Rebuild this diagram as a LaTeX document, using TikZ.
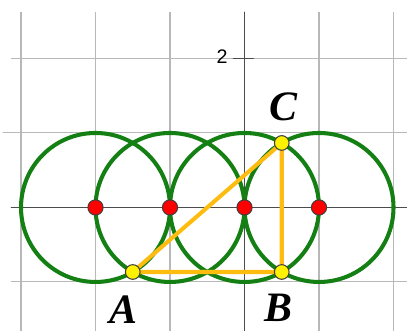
\documentclass[tikz,border=0pt]{standalone}
\usepackage{fontspec}
\setmainfont{Liberation Serif}
\setsansfont{Liberation Sans}
\usetikzlibrary{positioning}
\definecolor{ringgreen}{RGB}{20,128,20}
\definecolor{sideorange}{RGB}{255,188,16}

\begin{document}
\begin{tikzpicture}[x=1cm,y=1cm,line cap=round,line join=round,
    gridline/.style={black!28,line width=.4pt},
    axisline/.style={black!70,line width=.45pt},
    ring/.style={ringgreen,line width=1.55pt},
    side/.style={sideorange,line width=1.55pt},
    centre/.style={circle,draw=black!75,fill=red,line width=.4pt,inner sep=0pt,minimum size=5.8pt},
    vertex/.style={circle,draw=black!75,fill=yellow,line width=.4pt,inner sep=0pt,minimum size=5.6pt},
    vlabel/.style={font=\fontsize{16}{18}\selectfont\bfseries\itshape}]
    \useasboundingbox (-3.282,-1.658) rectangle (2.181,2.785);
    \foreach \x in {-3,-2,-1,1,2}
      \draw[gridline] (\x,2.62) -- (\x,-1.658);
    \foreach \y in {-1,2}
      \draw[gridline] (-3.13,\y) -- (2.181,\y);
    \draw[gridline] (-3.24,1) -- (2.181,1);
    \draw[axisline] (-3.13,0) -- (2.181,0);
    \draw[axisline] (0,2.62) -- (0,-1.658);
    \draw[axisline] (-.15,2) -- (.12,2);
    \node[font=\sffamily\fontsize{7.5}{9}\selectfont] (ytick) at (-.3,2.03) {2};
    \foreach \n/\x in {1/-2,2/-1,3/0,4/1}
      \coordinate (o\n) at (\x,0);
    \foreach \n in {1,...,4}
      \draw[ring] (o\n) circle (1);
    \coordinate (a) at (-1.5,-.866);
    \coordinate (b) at (.5,-.866);
    \coordinate (c) at (.5,.866);
    \draw[side] (a) -- (b) -- (c) -- cycle;
    \foreach \n in {1,...,4}
      \node[centre] (p\n) at (o\n) {};
    \node[vertex] (A) at (a) {};
    \node[vertex] (B) at (b) {};
    \node[vertex] (C) at (c) {};
    \node[vlabel] (labA) at (-1.63,-1.37) {A};
    \node[vlabel] (labB) at (.45,-1.35) {B};
    \node[vlabel] (labC) at (.52,1.35) {C};
  \end{tikzpicture}
\end{document}
